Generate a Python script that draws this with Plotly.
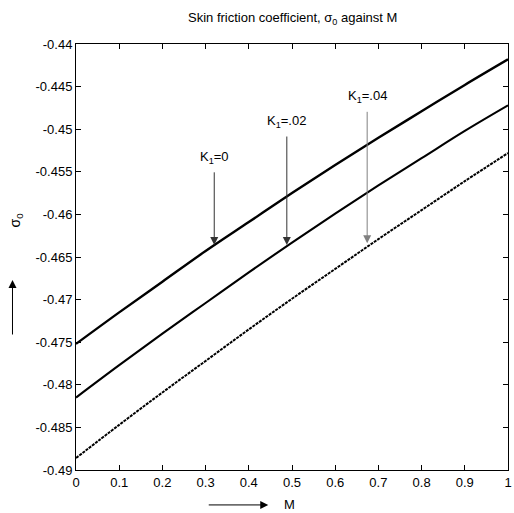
import plotly.graph_objects as go

M = [0.0, 0.1, 0.2, 0.3, 0.4, 0.5, 0.6, 0.7, 0.8, 0.9, 1.0]
sigma_k0 = [-0.4752, -0.4715, -0.4679, -0.4643, -0.4609, -0.4575, -0.4542, -0.4510, -0.4479, -0.4448, -0.4418]
sigma_k02 = [-0.4815, -0.4777, -0.4740, -0.4704, -0.4668, -0.4633, -0.4599, -0.4566, -0.4534, -0.4502, -0.4472]
sigma_k04 = [-0.4886, -0.4847, -0.4809, -0.4772, -0.4735, -0.4699, -0.4664, -0.4629, -0.4595, -0.4561, -0.4528]

x_ticks = [0, 0.1, 0.2, 0.3, 0.4, 0.5, 0.6, 0.7, 0.8, 0.9, 1]
x_ticklabels = ["0", "0.1", "0.2", "0.3", "0.4", "0.5", "0.6", "0.7", "0.8", "0.9", "1"]
y_ticks = [-0.49, -0.485, -0.48, -0.475, -0.47, -0.465, -0.46, -0.455, -0.45, -0.445, -0.44]
y_ticklabels = ["-0.49", "-0.485", "-0.48", "-0.475", "-0.47", "-0.465", "-0.46", "-0.455", "-0.45", "-0.445", "-0.44"]

labels = ["K<sub>1</sub>=0", "K<sub>1</sub>=.02", "K<sub>1</sub>=.04"]
label_M = [0.32, 0.488, 0.674]
label_tip = [-0.4636, -0.4636, -0.4634]
label_pos = [-0.4533, -0.4491, -0.4462]
arrow_colors = ["#333333", "#333333", "#808080"]

FONT = "Liberation Sans, Arial, sans-serif"

fig = go.Figure()
fig.add_trace(go.Scatter(x=M, y=sigma_k0, mode="lines", line=dict(color="black", width=2.4, shape="spline", smoothing=1.0), showlegend=False))
fig.add_trace(go.Scatter(x=M, y=sigma_k02, mode="lines", line=dict(color="black", width=2.1, shape="spline", smoothing=1.0), showlegend=False))
fig.add_trace(go.Scatter(x=M, y=sigma_k04, mode="lines", line=dict(color="black", width=2.0, dash="3px,1px", shape="spline", smoothing=1.0), showlegend=False))

annotations = []
for t, xm, yt, yl, c in zip(labels, label_M, label_tip, label_pos, arrow_colors):
    annotations.append(dict(
        x=xm, y=yt, xref="x", yref="y", ax=xm, ay=yl, axref="x", ayref="y",
        text=t, showarrow=True, arrowhead=2, arrowsize=1.6, arrowwidth=1,
        arrowcolor=c, font=dict(family=FONT, size=13, color="black"),
        standoff=0, startstandoff=5,
    ))

# axis labels with arrows
annotations.append(dict(x=0.495, y=-0.082, xref="paper", yref="paper", text="M",
                        xanchor="center", yanchor="middle",
                        showarrow=False, font=dict(family=FONT, size=13, color="black")))
annotations.append(dict(x=0.445, y=-0.082, xref="paper", yref="paper", text="",
                        showarrow=True, ax=-61, ay=0, arrowhead=2, arrowsize=1.6,
                        arrowwidth=1, arrowcolor="black"))
annotations.append(dict(x=-0.140, y=0.587, xref="paper", yref="paper", text="σ<sub>0</sub>",
                        xanchor="center", yanchor="middle",
                        textangle=-90, showarrow=False, font=dict(family=FONT, size=14, color="black")))
annotations.append(dict(x=-0.147, y=0.446, xref="paper", yref="paper", text="",
                        showarrow=True, ax=0, ay=56, arrowhead=2, arrowsize=1.6,
                        arrowwidth=1, arrowcolor="black"))
annotations.append(dict(x=0.5, y=1.061, xref="paper", yref="paper",
                        xanchor="center", yanchor="middle",
                        text="Skin friction coefficient, σ<sub>0</sub> against M",
                        showarrow=False, font=dict(family=FONT, size=13, color="black")))

fig.update_layout(
    width=514, height=513,
    margin=dict(l=76, r=2, t=44, b=43),
    paper_bgcolor="white", plot_bgcolor="white",
    annotations=annotations,
    font=dict(family=FONT, size=13, color="black"),
)
fig.update_xaxes(range=[0, 1], tickvals=x_ticks, ticktext=x_ticklabels,
                 showgrid=False, zeroline=False, showline=True, linecolor="black", linewidth=1,
                 mirror="ticks", ticks="inside", ticklen=5, tickcolor="black",
                 ticklabeloverflow="allow",
                 tickfont=dict(family=FONT, size=13, color="black"))
fig.update_yaxes(range=[-0.49, -0.44], tickvals=y_ticks, ticktext=y_ticklabels,
                 showgrid=False, zeroline=False, showline=True, linecolor="black", linewidth=1,
                 mirror="ticks", ticks="inside", ticklen=5, tickcolor="black",
                 ticklabeloverflow="allow",
                 tickfont=dict(family=FONT, size=13, color="black"))

fig.write_html("out.html")
